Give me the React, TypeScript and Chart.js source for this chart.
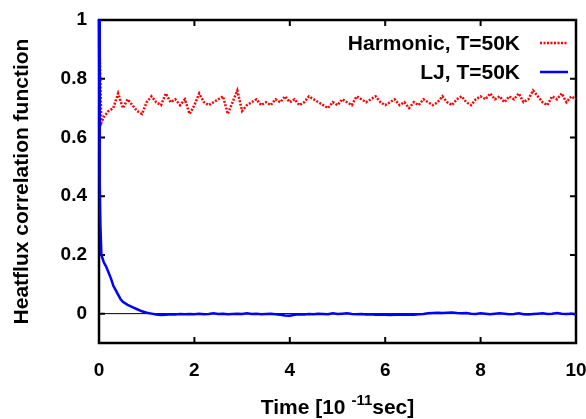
import React, { useEffect, useRef } from "react";
import { Chart, registerables } from "chart.js";

Chart.register(...registerables);

const harmonicTime = [
  0, 0.02, 0.05,
  0.1, 0.2, 0.3, 0.4, 0.5, 0.6, 0.7, 0.8, 0.9, 1.0,
  1.1, 1.2, 1.3, 1.4, 1.5, 1.6, 1.7, 1.8, 1.9, 2.0,
  2.1, 2.2, 2.3, 2.4, 2.5, 2.6, 2.7, 2.8, 2.9, 3.0,
  3.1, 3.2, 3.3, 3.4, 3.5, 3.6, 3.7, 3.8, 3.9, 4.0,
  4.1, 4.2, 4.3, 4.4, 4.5, 4.6, 4.7, 4.8, 4.9, 5.0,
  5.1, 5.2, 5.3, 5.4, 5.5, 5.6, 5.7, 5.8, 5.9, 6.0,
  6.1, 6.2, 6.3, 6.4, 6.5, 6.6, 6.7, 6.8, 6.9, 7.0,
  7.1, 7.2, 7.3, 7.4, 7.5, 7.6, 7.7, 7.8, 7.9, 8.0,
  8.1, 8.2, 8.3, 8.4, 8.5, 8.6, 8.7, 8.8, 8.9, 9.0,
  9.1, 9.2, 9.3, 9.4, 9.5, 9.6, 9.7, 9.8, 9.9, 10.0,
];

const harmonic = [
  1.0, 0.85, 0.65,
  0.67, 0.69, 0.70, 0.75, 0.70, 0.73, 0.71, 0.69, 0.68, 0.72,
  0.74, 0.72, 0.71, 0.75, 0.72, 0.73, 0.71, 0.73, 0.68, 0.71,
  0.75, 0.72, 0.71, 0.72, 0.73, 0.74, 0.68, 0.72, 0.76, 0.69,
  0.71, 0.72, 0.73, 0.71, 0.72, 0.71, 0.73, 0.72, 0.74, 0.72,
  0.73, 0.71, 0.72, 0.74, 0.73, 0.72, 0.71, 0.70, 0.72, 0.71,
  0.73, 0.72, 0.71, 0.74, 0.73, 0.72, 0.73, 0.74, 0.72, 0.71,
  0.72, 0.73, 0.71, 0.72, 0.70, 0.72, 0.71, 0.73, 0.72, 0.71,
  0.72, 0.74, 0.72, 0.71, 0.73, 0.74, 0.72, 0.71, 0.73, 0.74,
  0.73, 0.75, 0.73, 0.74, 0.72, 0.74, 0.73, 0.75, 0.72, 0.73,
  0.76, 0.74, 0.72, 0.71, 0.74, 0.73, 0.75, 0.72, 0.74, 0.73,
];

const ljTime = [
  0, 0.01, 0.02, 0.03, 0.05, 0.1, 0.15, 0.2, 0.25, 0.3, 0.35, 0.4, 0.45, 0.5,
  0.6, 0.7, 0.8, 0.9, 1.0,
  1.1, 1.2, 1.3, 1.4, 1.5, 1.6, 1.7, 1.8, 1.9, 2.0,
  2.1, 2.2, 2.3, 2.4, 2.5, 2.6, 2.7, 2.8, 2.9, 3.0,
  3.1, 3.2, 3.3, 3.4, 3.5, 3.6, 3.7, 3.8, 3.9, 4.0,
  4.1, 4.2, 4.3, 4.4, 4.5, 4.6, 4.7, 4.8, 4.9, 5.0,
  5.1, 5.2, 5.3, 5.4, 5.5, 5.6, 5.7, 5.8, 5.9, 6.0,
  6.1, 6.2, 6.3, 6.4, 6.5, 6.6, 6.7, 6.8, 6.9, 7.0,
  7.1, 7.2, 7.3, 7.4, 7.5, 7.6, 7.7, 7.8, 7.9, 8.0,
  8.1, 8.2, 8.3, 8.4, 8.5, 8.6, 8.7, 8.8, 8.9, 9.0,
  9.1, 9.2, 9.3, 9.4, 9.5, 9.6, 9.7, 9.8, 9.9, 10.0,
];

const lj = [
  1.0, 0.7, 0.45, 0.3, 0.2, 0.175, 0.16, 0.14, 0.12, 0.095, 0.08, 0.065, 0.05, 0.04,
  0.03, 0.022, 0.015, 0.008, 0.003,
  0.0, -0.003, -0.005, -0.004, -0.002, -0.003, -0.001, -0.002, -0.001, -0.002,
  0.0, -0.002, -0.001, 0.001, -0.001, 0.0, -0.002, -0.001, 0.0, -0.001,
  0.001, -0.001, 0.0, -0.002, -0.001, 0.0, -0.002, -0.004, -0.006, -0.007,
  -0.004, -0.002, -0.003, -0.001, -0.002, 0.0, -0.001, -0.002, 0.001, -0.001,
  0.0, 0.001, -0.001, -0.002, -0.001, -0.003, -0.002, -0.004, -0.003, -0.004,
  -0.005, -0.004, -0.003, -0.004, -0.003, -0.004, -0.002, -0.001, 0.001, 0.002,
  0.003, 0.002, 0.003, 0.004, 0.002, 0.001, 0.002, 0.0, -0.001, 0.001,
  0.0, -0.002, 0.0, 0.001, 0.0, -0.002, -0.001, 0.001, -0.002, -0.003,
  -0.001, 0.0, 0.001, -0.001, 0.0, 0.002, 0.0, -0.001, 0.0, -0.003,
];

const seriesLabels = ["Harmonic, T=50K", "LJ, T=50K"];
const xTicks = [0, 2, 4, 6, 8, 10];
const yTicks = [0, 0.2, 0.4, 0.6, 0.8, 1];
const yTitle = "Heatflux correlation function";
const xTitleParts = ["Time [10 ", "-11", "sec]"];

const FONT = "'Liberation Sans', Arial, sans-serif";

const framePlugin = {
  id: "frame",
  beforeDatasetsDraw(chart: any) {
    const { ctx, chartArea, scales } = chart;
    const { left, right, top, bottom } = chartArea;
    const xs = scales.x;
    const ys = scales.y;
    ctx.save();
    const y0 = ys.getPixelForValue(0);
    ctx.strokeStyle = "#000";
    ctx.lineWidth = 1;
    ctx.beginPath();
    ctx.moveTo(left, y0);
    ctx.lineTo(right, y0);
    ctx.stroke();
    ctx.lineWidth = 2.5;
    ctx.strokeRect(left, top, right - left, bottom - top);
    ctx.lineWidth = 2;
    const tl = 6;
    xTicks.forEach((v) => {
      const x = xs.getPixelForValue(v);
      ctx.beginPath();
      ctx.moveTo(x, bottom);
      ctx.lineTo(x, bottom - tl);
      ctx.moveTo(x, top);
      ctx.lineTo(x, top + tl);
      ctx.stroke();
    });
    yTicks.forEach((v) => {
      const y = ys.getPixelForValue(v);
      ctx.beginPath();
      ctx.moveTo(left, y);
      ctx.lineTo(left + tl, y);
      ctx.moveTo(right, y);
      ctx.lineTo(right - tl, y);
      ctx.stroke();
    });
    ctx.restore();
  },
  afterDraw(chart: any) {
    const { ctx, chartArea } = chart;
    ctx.save();
    const ds = chart.data.datasets;
    const textRight = 520;
    const lineX1 = 540;
    const lineX2 = 568;
    const rows = [43, 72];
    ctx.font = `bold 21px ${FONT}`;
    ctx.textAlign = "right";
    ctx.textBaseline = "middle";
    ds.forEach((d: any, i: number) => {
      const y = rows[i];
      ctx.fillStyle = "#000";
      ctx.fillText(d.label, textRight, y + 1);
      ctx.strokeStyle = d.borderColor;
      ctx.lineWidth = d.borderWidth;
      ctx.setLineDash(d.borderDash || []);
      ctx.beginPath();
      ctx.moveTo(lineX1, y);
      ctx.lineTo(lineX2, y);
      ctx.stroke();
      ctx.setLineDash([]);
    });
    const big = `bold 21px ${FONT}`;
    const small = `bold 15px ${FONT}`;
    ctx.textAlign = "left";
    ctx.textBaseline = "alphabetic";
    ctx.font = big;
    const w0 = ctx.measureText(xTitleParts[0]).width;
    const w2 = ctx.measureText(xTitleParts[2]).width;
    ctx.font = small;
    const w1 = ctx.measureText(xTitleParts[1]).width;
    const total = w0 + w1 + w2;
    const cx = (chartArea.left + chartArea.right) / 2;
    let x = cx - total / 2;
    const base = 414;
    ctx.fillStyle = "#000";
    ctx.font = big;
    ctx.fillText(xTitleParts[0], x, base);
    x += w0;
    ctx.font = small;
    ctx.fillText(xTitleParts[1], x, base - 9);
    x += w1;
    ctx.font = big;
    ctx.fillText(xTitleParts[2], x, base);
    ctx.restore();
  },
};

export default function App() {
  const ref = useRef<HTMLCanvasElement | null>(null);

  useEffect(() => {
    document.body.style.margin = "0";
    const canvas = ref.current;
    if (!canvas) return;
    const chart = new Chart(canvas, {
      type: "line",
      data: {
        datasets: [
          {
            label: seriesLabels[0],
            data: harmonicTime.map((t, i) => ({ x: t, y: harmonic[i] })),
            borderColor: "#ff0000",
            borderWidth: 2.5,
            borderDash: [2, 1.5],
            pointRadius: 0,
            tension: 0,
            order: 1,
            clip: 4,
          },
          {
            label: seriesLabels[1],
            data: ljTime.map((t, i) => ({ x: t, y: lj[i] })),
            borderColor: "#0000ff",
            borderWidth: 2.5,
            pointRadius: 0,
            tension: 0,
            order: 0,
            clip: 4,
          },
        ],
      },
      options: {
        responsive: false,
        animation: false,
        layout: { padding: { top: 20, right: 10, left: 8, bottom: 0 } },
        plugins: {
          legend: { display: false },
          tooltip: { enabled: false },
        },
        scales: {
          x: {
            type: "linear",
            min: 0,
            max: 10,
            grid: { display: false, drawTicks: false },
            border: { display: false },
            afterBuildTicks: (s: any) => {
              s.ticks = xTicks.map((v) => ({ value: v }));
            },
            afterFit: (s: any) => {
              s.height = 76;
              s.paddingLeft = 0;
              s.paddingRight = 0;
            },
            ticks: {
              padding: 16,
              color: "#000",
              font: { family: FONT, size: 19, weight: "bold" },
              maxRotation: 0,
              callback: (v: any) => String(v),
            },
          },
          y: {
            type: "linear",
            min: -0.1,
            max: 1,
            grid: { display: false, drawTicks: false },
            border: { display: false },
            afterBuildTicks: (s: any) => {
              s.ticks = yTicks.map((v) => ({ value: v }));
            },
            afterFit: (s: any) => {
              s.width = 91;
              s.paddingTop = 0;
              s.paddingBottom = 0;
            },
            ticks: {
              padding: 12,
              color: "#000",
              font: { family: FONT, size: 19, weight: "bold" },
              callback: (v: any) => String(Math.round(v * 10) / 10),
            },
            title: {
              display: true,
              text: yTitle,
              color: "#000",
              font: { family: FONT, size: 21, weight: "bold" },
              padding: { top: 2, bottom: 0 },
            },
          },
        },
      },
      plugins: [framePlugin],
    });
    return () => chart.destroy();
  }, []);

  return (
    <div style={{ width: 586, height: 419 }}>
      <canvas ref={ref} width={586} height={419} />
    </div>
  );
}
